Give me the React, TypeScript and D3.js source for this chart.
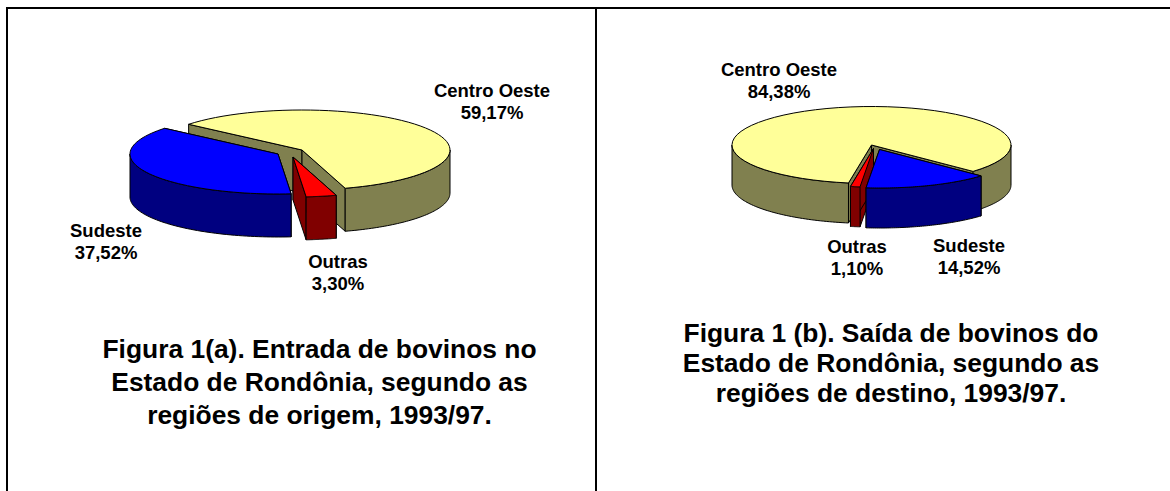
import * as d3 from "d3";

// slice names and shares
const leftNames = ["Centro Oeste", "Outras", "Sudeste"];
const leftValues = [59.17, 3.3, 37.52];
const rightNames = ["Centro Oeste", "Sudeste", "Outras"];
const rightValues = [84.38, 14.52, 1.1];
const leftTitle = ["Figura 1(a). Entrada de bovinos no", "Estado de Rondônia, segundo as", "regiões de origem, 1993/97."];
const rightTitle = ["Figura 1 (b). Saída de bovinos do", "Estado de Rondônia, segundo as", "regiões de destino, 1993/97."];

const topColors: Record<string, string> = { "Centro Oeste": "#ffff99", Sudeste: "#0000ff", Outras: "#ff0000" };
const sideColors: Record<string, string> = { "Centro Oeste": "#80804f", Sudeste: "#000080", Outras: "#800000" };

const fmt = (v: number) => v.toFixed(2).replace(".", ",") + "%";
const rad = (deg: number) => (deg * Math.PI) / 180;

type PieProps = {
  names: string[];
  values: number[];
  cx: number;
  cy: number;
  rx: number;
  ry: number;
  depth: number;
  startDeg: number;
  offsets: Record<string, [number, number]>;
  labels: Record<string, [number, number]>;
};

// 3D pie: d3.pie gives the angles, each slice is squashed into an ellipse and extruded
function Pie3D({ names, values, cx, cy, rx, ry, depth, startDeg, offsets, labels }: PieProps) {
  const pie = d3.pie<number>().sort(null).startAngle(rad(startDeg)).endAngle(rad(startDeg + 360));
  const arcs = pie(values);
  const line = d3.line();

  const slices = names.map((name, i) => {
    const a = arcs[i];
    const [dx, dy] = offsets[name];
    const ox = cx + dx;
    const oy = cy + dy;
    const pt = (t: number): [number, number] => [ox + rx * Math.sin(t), oy - ry * Math.cos(t)];
    const sweep = (t0: number, t1: number) => d3.range(0, 61).map((k) => pt(t0 + ((t1 - t0) * k) / 60));
    const down = (p: [number, number]): [number, number] => [p[0], p[1] + depth];

    // outer skin only where the rim faces the viewer
    const rims: string[] = [];
    for (let k = -1; k <= 2; k++) {
      const lo = Math.max(a.startAngle, Math.PI / 2 + k * 2 * Math.PI);
      const hi = Math.min(a.endAngle, (3 * Math.PI) / 2 + k * 2 * Math.PI);
      if (hi > lo) {
        const arc = sweep(lo, hi);
        rims.push(line([...arc, ...arc.map(down).reverse()])! + "Z");
      }
    }
    const apex: [number, number] = [ox, oy];
    const wall = (t: number) => line([apex, pt(t), down(pt(t)), down(apex)])! + "Z";
    return {
      name,
      value: values[i],
      walls: [wall(a.startAngle), wall(a.endAngle)],
      rims,
      top: line([apex, ...sweep(a.startAngle, a.endAngle)])! + "Z",
    };
  });

  // big slice first, exploded ones in front of it, Sudeste last
  const order = ["Centro Oeste", "Outras", "Sudeste"];
  const sorted = d3.sort(slices, (s) => order.indexOf(s.name));

  return (
    <g>
      {sorted.map((s) => (
        <g key={s.name} stroke="#000" strokeWidth={1} strokeLinejoin="round">
          {s.walls.map((d, i) => (
            <path key={i} d={d} fill={sideColors[s.name]} />
          ))}
          {s.rims.map((d, i) => (
            <path key={i} d={d} fill={sideColors[s.name]} />
          ))}
          <path d={s.top} fill={topColors[s.name]} />
        </g>
      ))}
      {slices.map((s) => (
        <text key={s.name} textAnchor="middle" fontSize={18.5} fontWeight="bold" fill="#000">
          <tspan x={labels[s.name][0]} y={labels[s.name][1]}>{s.name}</tspan>
          <tspan x={labels[s.name][0]} dy={22}>{fmt(s.value)}</tspan>
        </text>
      ))}
    </g>
  );
}

export default function App() {
  return (
    <svg
      width={1170}
      height={491}
      viewBox="0 0 1170 491"
      style={{ position: "absolute", left: 0, top: 0, background: "#fff", fontFamily: "'Liberation Sans', Arial, sans-serif" }}
    >
      <path d="M7 491V8H1170M596 8V491" fill="none" stroke="#000" strokeWidth={2} />

      <Pie3D
        names={leftNames}
        values={leftValues}
        cx={302}
        cy={150}
        rx={148}
        ry={40}
        depth={43}
        startDeg={-50}
        offsets={{ "Centro Oeste": [0, 0], Outras: [-9, 7], Sudeste: [-24, 4] }}
        labels={{ "Centro Oeste": [492, 97], Sudeste: [106, 237], Outras: [338, 268] }}
      />
      <Pie3D
        names={rightNames}
        values={rightValues}
        cx={871.5}
        cy={145}
        rx={139.5}
        ry={38.5}
        depth={40}
        startDeg={189.5}
        offsets={{ "Centro Oeste": [0, 0], Sudeste: [8, 4.5], Outras: [2, 3.5] }}
        labels={{ "Centro Oeste": [779, 76], Sudeste: [969, 252], Outras: [857, 253] }}
      />

      <text textAnchor="middle" fontSize={26.4} fontWeight="bold" fill="#000">
        {leftTitle.map((t, i) => (
          <tspan key={t} x={319.5} y={358 + i * 33}>{t}</tspan>
        ))}
      </text>
      <text textAnchor="middle" fontSize={26.4} fontWeight="bold" fill="#000">
        {rightTitle.map((t, i) => (
          <tspan key={t} x={891} y={342 + i * 30}>{t}</tspan>
        ))}
      </text>
    </svg>
  );
}
